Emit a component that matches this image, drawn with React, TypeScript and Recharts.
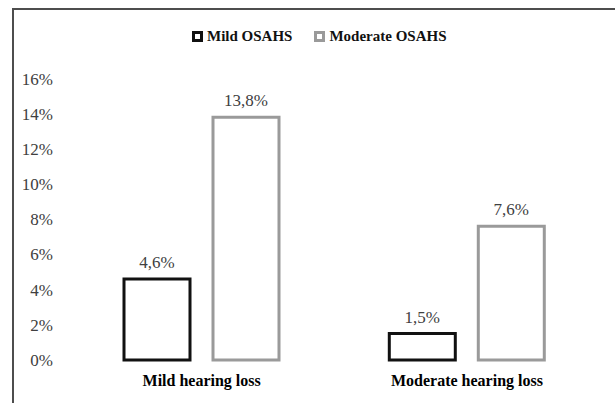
import { Bar, BarChart, LabelList, XAxis, YAxis } from 'recharts';

const categories = ['Mild hearing loss', 'Moderate hearing loss'];
const mildOsahs = [4.6, 1.5];
const moderateOsahs = [13.8, 7.6];
const yTicks = [0, 2, 4, 6, 8, 10, 12, 14, 16];

const series = [
  { key: 'mild', name: 'Mild OSAHS', stroke: '#111111' },
  { key: 'moderate', name: 'Moderate OSAHS', stroke: '#9a9a9a' },
];

const chartData = categories.map((label, i) => ({
  label,
  mild: mildOsahs[i],
  moderate: moderateOsahs[i],
}));

const FONT = '"Liberation Serif", "Times New Roman", serif';

function formatPercent(value: unknown): string {
  return `${String(value).replace('.', ',')}%`;
}

export default function App() {
  return (
    <div
      style={{
        position: 'relative',
        marginLeft: 12,
        marginTop: 8,
        width: 601,
        height: 393,
        borderTop: '2px solid #4d4d4d',
        borderLeft: '2px solid #4d4d4d',
        background: '#fff',
        fontFamily: FONT,
      }}
    >
      <style>{'html,body{margin:0;overflow:hidden;background:#fff}'}</style>

      <div
        style={{
          position: 'absolute',
          left: 178,
          top: 18,
          display: 'flex',
          alignItems: 'center',
          fontSize: 15,
          fontWeight: 'bold',
          color: '#111',
        }}
      >
        {series.map((s) => (
          <div key={s.key} style={{ display: 'flex', alignItems: 'center', marginRight: 22 }}>
            <span
              style={{
                display: 'inline-block',
                width: 5,
                height: 5,
                border: `3px solid ${s.stroke}`,
                background: '#fff',
                marginRight: 4,
              }}
            />
            <span>{s.name}</span>
          </div>
        ))}
      </div>

      <BarChart
        width={601}
        height={393}
        data={chartData}
        margin={{ top: 68.5, right: 15.4, bottom: 0, left: 0 }}
        barCategoryGap={55}
        barGap={23}
      >
        <XAxis
          dataKey="label"
          axisLine={false}
          tickLine={false}
          tickSize={0}
          tickMargin={15}
          height={43}
          tick={{ fill: '#000', fontSize: 16, fontWeight: 'bold', fontFamily: FONT }}
        />
        <YAxis
          width={55}
          domain={[0, 16]}
          ticks={yTicks}
          axisLine={false}
          tickLine={false}
          tickSize={0}
          tickMargin={16}
          tickFormatter={(v) => `${v}%`}
          tick={{ fill: '#404040', fontSize: 17, fontFamily: FONT }}
        />
        {series.map((s) => (
          <Bar
            key={s.key}
            dataKey={s.key}
            name={s.name}
            fill="#ffffff"
            stroke={s.stroke}
            strokeWidth={3}
            isAnimationActive={false}
          >
            <LabelList
              dataKey={s.key}
              position="top"
              offset={11}
              formatter={formatPercent}
              style={{ fill: '#404040', fontSize: 17, fontFamily: FONT }}
            />
          </Bar>
        ))}
      </BarChart>
    </div>
  );
}
